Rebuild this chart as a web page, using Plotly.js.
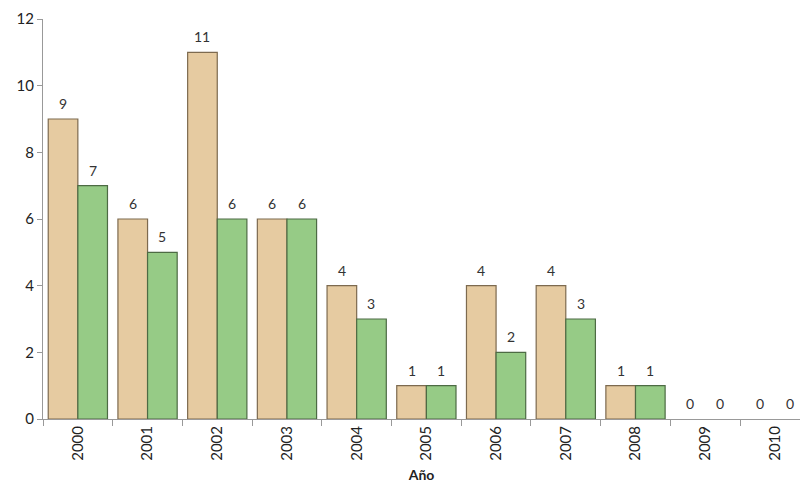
<!DOCTYPE html>
<html>
<head>
<meta charset="utf-8">
<script src="https://cdn.plot.ly/plotly-3.0.1.min.js"></script>
<style>
  html, body { margin: 0; padding: 0; background: #fff; }
  #graph { width: 800px; height: 494px; }
</style>
</head>
<body>
<div id="graph"></div>
<script>
const years = ['2000', '2001', '2002', '2003', '2004', '2005', '2006', '2007', '2008', '2009', '2010']
const serieA = [9, 6, 11, 6, 4, 1, 4, 4, 1, 0, 0]
const serieB = [7, 5, 6, 6, 3, 1, 2, 3, 1, 0, 0]

const fontFamily = 'Lato, "Open Sans", sans-serif'

const W = 800, H = 494
const margin = { l: 43, r: 0, t: 19, b: 75 }
const xRange = [-0.5, 10.36]
const bargap = 0.15

// ancho de cada barra en pixeles, para desplazar las etiquetas
const catPx = (W - margin.l - margin.r) / (xRange[1] - xRange[0])
const barPx = catPx * (1 - bargap) / 2

function lineWidths(vals) {
    return vals.map(v => v === 0 ? 0 : 1.2)
}

function labelAnnotations(vals, shift) {
    return vals.map((v, i) => ({
        x: i,
        y: v,
        xref: 'x',
        yref: 'y',
        text: String(v),
        showarrow: false,
        xshift: shift,
        yanchor: 'bottom',
        yshift: 5,
        font: { family: fontFamily, size: 14, color: '#333' }
    }))
}

let data = [
    {
        type: 'bar',
        x: years,
        y: serieA,
        marker: {
            color: '#E6CBA1',
            line: { color: '#7d6a4f', width: lineWidths(serieA) }
        },
        hoverinfo: 'x+y'
    },
    {
        type: 'bar',
        x: years,
        y: serieB,
        marker: {
            color: '#96CB86',
            line: { color: '#4d6b44', width: lineWidths(serieB) }
        },
        hoverinfo: 'x+y'
    }
]

let layout = {
    width: W,
    height: H,
    margin: margin,
    paper_bgcolor: '#fff',
    plot_bgcolor: '#fff',
    showlegend: false,
    barmode: 'group',
    bargap: bargap,
    bargroupgap: 0,
    font: { family: fontFamily, size: 14, color: '#222' },
    annotations: labelAnnotations(serieA, -barPx / 2).concat(labelAnnotations(serieB, barPx / 2)),
    xaxis: {
        type: 'category',
        range: xRange,
        tickangle: -90,
        tickson: 'boundaries',
        ticks: 'outside',
        ticklen: 6,
        tickcolor: '#999',
        showline: true,
        linecolor: '#999',
        linewidth: 1,
        showgrid: false,
        tickfont: { family: fontFamily, size: 15, color: '#222' },
        title: {
            text: '<b>Año</b>',
            font: { family: fontFamily, size: 14, color: '#222' },
            standoff: 10
        }
    },
    yaxis: {
        range: [0, 12],
        dtick: 2,
        ticks: 'outside',
        ticklen: 5,
        tickcolor: '#999',
        showline: true,
        linecolor: '#999',
        linewidth: 1,
        showgrid: false,
        zeroline: false,
        tickfont: { family: fontFamily, size: 15, color: '#222' }
    }
}

Plotly.newPlot('graph', data, layout, { displayModeBar: false, staticPlot: true })
</script>
</body>
</html>
